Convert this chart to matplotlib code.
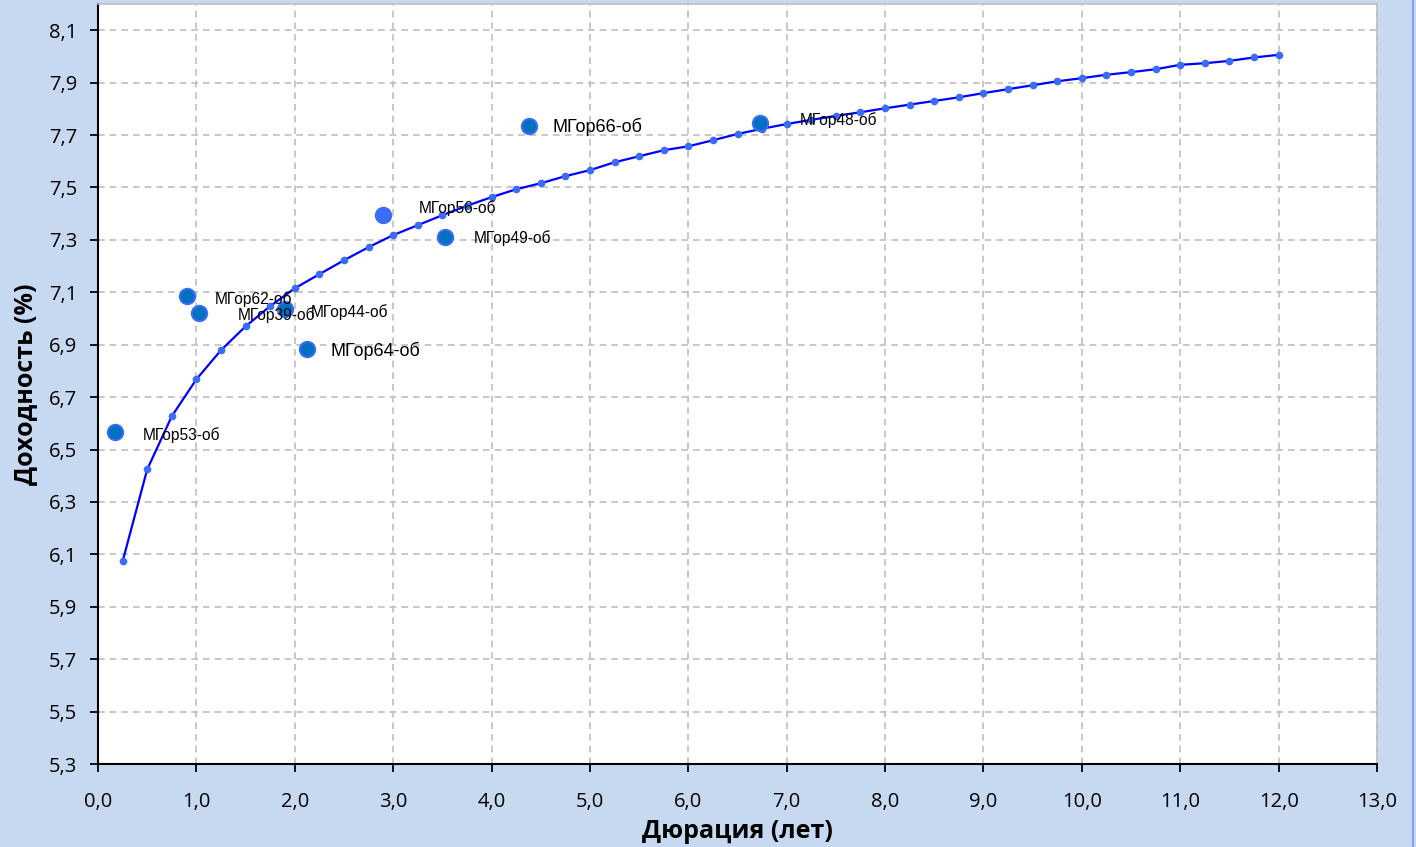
import matplotlib
matplotlib.use("Agg")
import matplotlib.pyplot as plt
from matplotlib.lines import Line2D
from matplotlib.ticker import FuncFormatter, MultipleLocator
import numpy as np

# ---------------------------------------------------------------------------
# Data
# ---------------------------------------------------------------------------

# fitted yield curve (duration, yield)
curve_x = [0.25, 0.5, 0.75, 1.0, 1.25, 1.5, 1.75, 2.0, 2.25, 2.5, 2.75, 3.0,
           3.25, 3.5, 3.75, 4.0, 4.25, 4.5, 4.75, 5.0, 5.25, 5.5, 5.75, 6.0,
           6.25, 6.5, 6.75, 7.0, 7.25, 7.5, 7.75, 8.0, 8.25, 8.5, 8.75, 9.0,
           9.25, 9.5, 9.75, 10.0, 10.25, 10.5, 10.75, 11.0, 11.25, 11.5, 11.75, 12.0]
curve_y = [6.073, 6.424, 6.627, 6.768, 6.879, 6.970, 7.047, 7.115, 7.169, 7.222,
           7.272, 7.318, 7.356, 7.394, 7.430, 7.463, 7.493, 7.516, 7.543, 7.566,
           7.596, 7.619, 7.642, 7.657, 7.680, 7.704, 7.724, 7.742, 7.758, 7.773,
           7.787, 7.802, 7.816, 7.830, 7.844, 7.860, 7.875, 7.890, 7.905, 7.917,
           7.930, 7.940, 7.951, 7.968, 7.974, 7.983, 7.996, 8.006]

# individual bonds
bond_names = ["МГор53-об", "МГор62-об", "МГор39-об", "МГор44-об", "МГор64-об",
              "МГор56-об", "МГор49-об", "МГор66-об", "МГор48-об"]
bond_x = [0.17, 0.90, 1.03, 1.90, 2.12, 2.90, 3.53, 4.38, 6.73]
bond_y = [6.566, 7.085, 7.020, 7.035, 6.882, 7.394, 7.310, 7.734, 7.745]

# ---------------------------------------------------------------------------
# Styling per bond (fill, label offset in px, label size)
# ---------------------------------------------------------------------------

dark, light = "#0070C0", "#3B6CF8"
bond_fill = [dark, dark, dark, dark, dark, light, dark, dark, dark]
label_dx = [28, 28, 38, 26, 24, 35, 28, 24, 40]
label_dy = [-3, -3, -2, -3, -1, 7, -1, -1, 3]
label_fs = [11.2, 11.2, 11.2, 11.2, 13, 11.2, 11.2, 13, 11.2]

bg = "#C6D9F1"
fig = plt.figure(figsize=(14.16, 8.47), dpi=100, facecolor=bg)
ax = fig.add_axes([98 / 1416, 1 - 764 / 847, (1377 - 98) / 1416, (764 - 4) / 847])
ax.set_facecolor("white")

ax.plot(curve_x, curve_y, "-", color="#0000FF", linewidth=1.6, zorder=3)
ax.plot(curve_x, curve_y, "o", color=light, markersize=5.5, markeredgewidth=0, zorder=4)

for name, x, y, fc, dx, dy, fs in zip(bond_names, bond_x, bond_y, bond_fill,
                                      label_dx, label_dy, label_fs):
    ax.plot(x, y, "o", markersize=11, markerfacecolor=fc, markeredgecolor=light,
            markeredgewidth=1.5, zorder=5)
    ax.annotate(name, (x, y), xytext=(dx, dy), textcoords="offset pixels",
                ha="left", va="center", fontsize=fs, family="Liberation Sans",
                color="black", zorder=6)

ax.set_xlim(0, 13)
ax.set_ylim(5.3, 8.2)
ax.xaxis.set_major_locator(MultipleLocator(1.0))
ax.set_yticks(np.arange(5.3, 8.15, 0.2))
fmt = FuncFormatter(lambda v, _: f"{v:.1f}".replace(".", ","))
ax.xaxis.set_major_formatter(fmt)
ax.yaxis.set_major_formatter(fmt)

ax.grid(True, color="#BFBFBF", linestyle=(0, (4, 3)), linewidth=1.2)
ax.set_axisbelow(True)
for side in ("top", "right"):
    ax.spines[side].set_color("#BFBFBF")
    ax.spines[side].set_linewidth(1.2)
for side in ("left", "bottom"):
    ax.spines[side].set_color("black")
    ax.spines[side].set_linewidth(1.5)

ax.tick_params(direction="out", length=6, width=1.3, colors="black",
               labelsize=14.5, pad=9)
ax.tick_params(axis="x", pad=14)
for lbl in ax.get_xticklabels() + ax.get_yticklabels():
    lbl.set_family("Open Sans")

ax.set_xlabel("Дюрация (лет)", fontsize=18, fontweight="bold", family="Open Sans", labelpad=5)
ax.set_ylabel("Доходность (%)", fontsize=18, fontweight="bold", family="Open Sans", labelpad=8)

# right border line of the chart
fig.add_artist(Line2D([1413 / 1416, 1413 / 1416], [0, 1], transform=fig.transFigure,
                      color="#7EA6E0", linewidth=1.5))

fig.savefig("out.png", dpi=100, facecolor=bg)
